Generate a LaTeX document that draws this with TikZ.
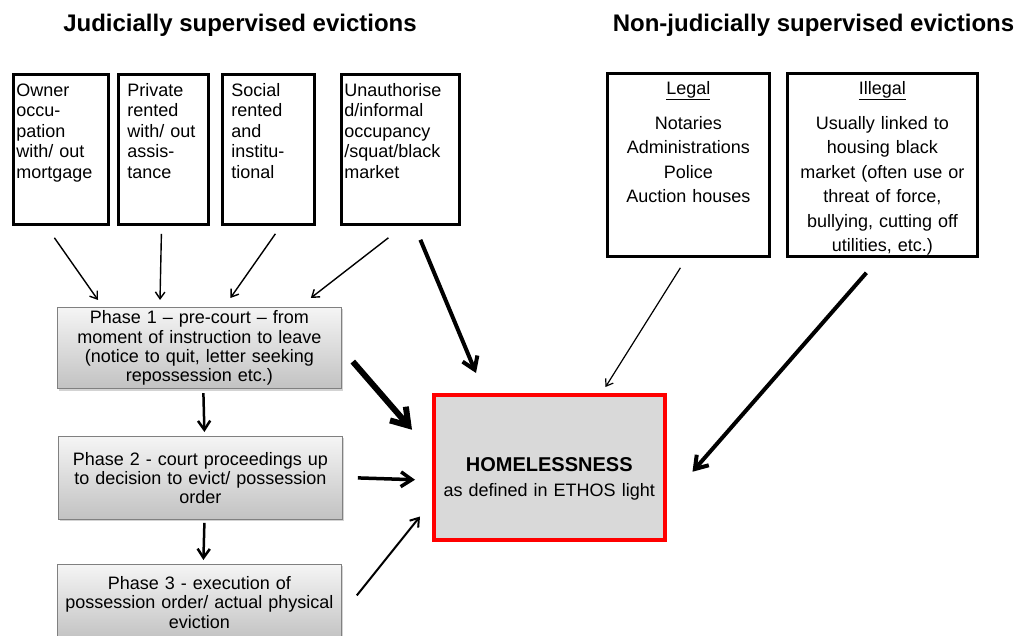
\documentclass[tikz,border=0pt]{standalone}
\usepackage{fontspec}
\setmainfont{Liberation Sans}
\usetikzlibrary{arrows.meta,shadows}

\begin{document}
\begin{tikzpicture}[x=1pt, y=-1pt,
  title/.style={anchor=base, font=\bfseries\fontsize{24}{28}\selectfont},
  typebox/.style={draw, line width=2.8pt, anchor=north west, align=left, inner ysep=9pt, text height=13pt, text depth=119pt, font=\fontsize{18}{20.5}\selectfont},
  nonbox/.style={draw, line width=2.8pt, anchor=north west, align=center, inner xsep=4pt, inner ysep=8pt, text height=13pt, text depth=154pt, font=\fontsize{18}{24.5}\selectfont},
  phasebox/.style={draw=gray, line width=0.8pt, anchor=north west, align=center, inner xsep=4pt, text width=276pt, top color=gray!8, bottom color=gray!48, drop shadow={shadow xshift=2pt, shadow yshift=-2pt, opacity=0.35}, font=\fontsize{18}{19.3}\selectfont},
  homebox/.style={draw=red, line width=3.5pt, fill=gray!30, anchor=north west, align=center, text width=223pt, inner xsep=4pt, inner ysep=4pt, text height=73pt, text depth=64pt, font=\fontsize{18}{25}\selectfont},
  arr/.style={-{Straight Barb[length=4pt 2, width=6pt 2.5]}, line width=#1},
  arr/.default=1.4pt]
\useasboundingbox (0,0) rectangle (1020,636);
\node[title] (T_0) at (240,32) {Judicially supervised evictions};
\node[title] (T_1) at (813.5,32) {Non-judicially supervised evictions};
\node[typebox, inner xsep=3pt, text width=89pt] (J_0) at (12,73) {Owner\\occu-\\pation\\with/ out\\mortgage};
\node[typebox, inner xsep=9pt, text width=72pt] (J_1) at (117,73) {Private\\rented\\with/ out\\assis-\\tance};
\node[typebox, inner xsep=9pt, text width=74pt] (J_2) at (221,73) {Social\\rented\\and\\institu-\\tional};
\node[typebox, inner xsep=3pt, text width=112pt] (J_3) at (340,73) {Unauthorise\\d/informal\\occupancy\\/squat/black\\market};
\node[nonbox, text width=154pt] (N_0) at (606,72) {\underline{Legal}\\[10.5pt]Notaries\\Administrations\\Police\\Auction houses};
\node[nonbox, text width=182pt] (N_1) at (786,72) {\underline{Illegal}\\[10.5pt]Usually linked to\\housing black\\market (often use or\\threat of force,\\bullying, cutting off\\utilities, etc.)};
\node[phasebox, minimum height=79pt] (P_1) at (57,307) {Phase 1 – pre-court – from\\moment of instruction to leave\\(notice to quit, letter seeking\\repossession etc.)};
\node[phasebox, minimum height=83pt] (P_2) at (58,436) {Phase 2 - court proceedings up\\to decision to evict/ possession\\order};
\node[phasebox, minimum height=76pt] (P_3) at (57,564) {Phase 3 - execution of\\possession order/ actual physical\\eviction};
\node[homebox] (H) at (432,393) {{\bfseries\fontsize{20}{25}\selectfont HOMELESSNESS}\\as defined in ETHOS light};
\draw[arr] ([xshift=-6.5pt,yshift=-12pt]J_0.south) -- ([xshift=41pt,yshift=7pt]P_1.north west);
\draw[arr] ([xshift=-2pt,yshift=-8pt]J_1.south) -- ([xshift=103pt,yshift=7pt]P_1.north west);
\draw[arr] ([xshift=7pt,yshift=-8pt]J_2.south) -- ([xshift=31pt,yshift=9pt]P_1.north);
\draw[arr] ([xshift=-12pt,yshift=-12pt]J_3.south) -- ([xshift=-31pt,yshift=9pt]P_1.north east);
\draw[arr=4pt] ([xshift=20pt,yshift=-14pt]J_3.south) -- ([xshift=44pt,yshift=20pt]H.north west);
\draw[arr=1.2pt] ([xshift=-8pt,yshift=-10pt]N_0.south) -- ([xshift=-61pt,yshift=6pt]H.north east);
\draw[arr=4pt] ([xshift=-16pt,yshift=-15pt]N_1.south) -- ([xshift=26pt,yshift=-4.5pt]H.east);
\draw[arr=6pt] ([xshift=11pt,yshift=-13.5pt]P_1.east) -- ([xshift=-20pt,yshift=37.5pt]H.west);
\draw[arr=3.5pt] ([xshift=15pt]P_2.east) -- ([xshift=-17pt,yshift=-12.5pt]H.west);
\draw[arr=2pt] ([xshift=15pt,yshift=7pt]P_3.east) -- ([xshift=-12pt,yshift=25pt]H.south west);
\draw[arr=2.5pt] ([xshift=4pt,yshift=-4pt]P_1.south) -- ([xshift=4pt,yshift=4pt]P_2.north);
\draw[arr=2.5pt] ([xshift=4pt,yshift=-3pt]P_2.south) -- ([xshift=4pt,yshift=4pt]P_3.north);
\end{tikzpicture}
\end{document}
